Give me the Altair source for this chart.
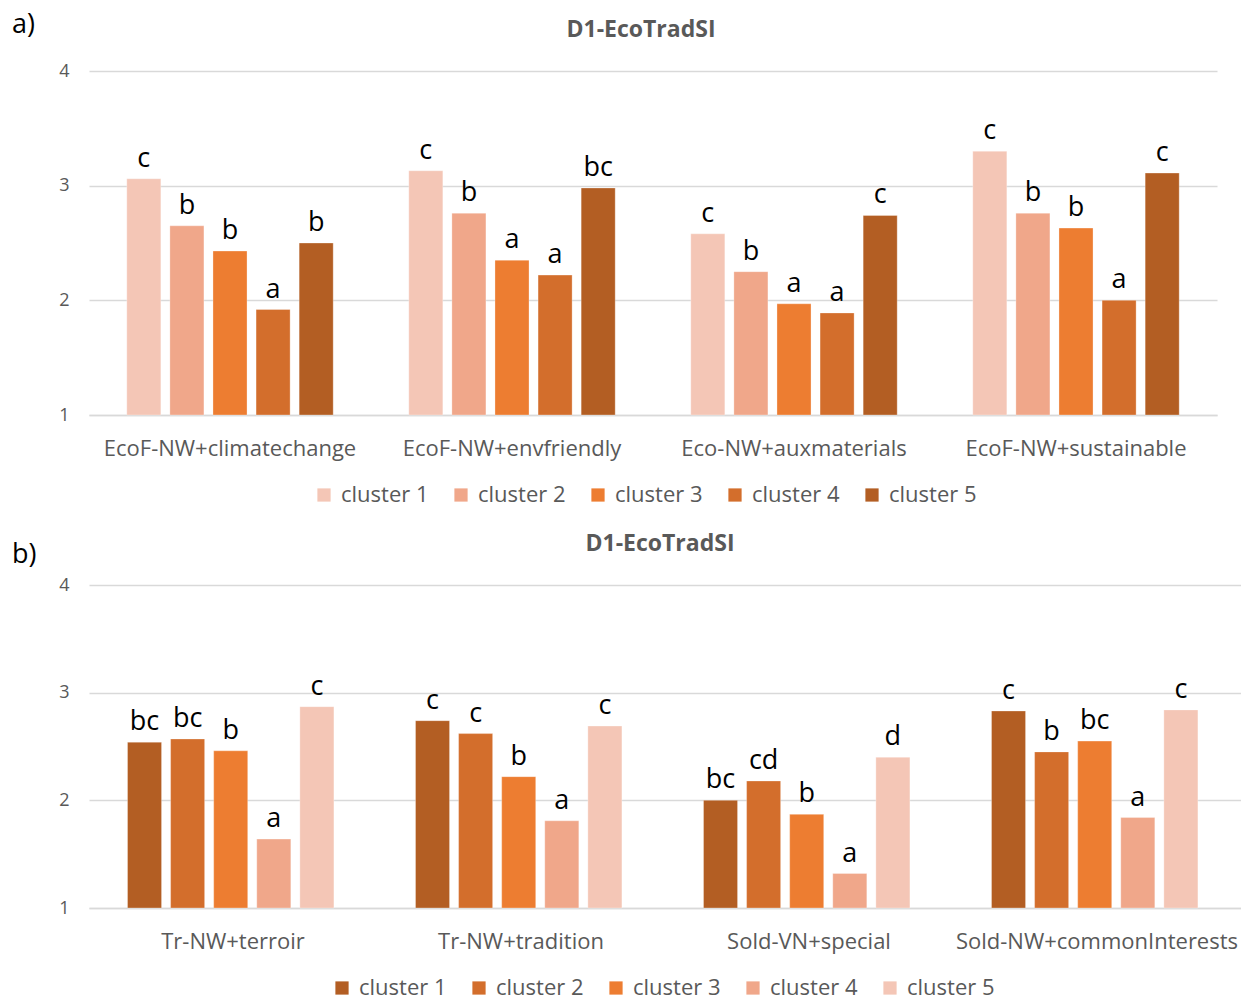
import altair as alt
import pandas as pd

# ---- data -------------------------------------------------------------
clusters = ["cluster 1", "cluster 2", "cluster 3", "cluster 4", "cluster 5"]

items_a = ["EcoF-NW+climatechange", "EcoF-NW+envfriendly",
           "Eco-NW+auxmaterials", "EcoF-NW+sustainable"]
means_a = [
    [3.06, 2.65, 2.43, 1.92, 2.50],
    [3.13, 2.76, 2.35, 2.22, 2.98],
    [2.58, 2.25, 1.97, 1.89, 2.74],
    [3.30, 2.76, 2.63, 2.00, 3.11],
]
letters_a = [
    ["c", "b", "b", "a", "b"],
    ["c", "b", "a", "a", "bc"],
    ["c", "b", "a", "a", "c"],
    ["c", "b", "b", "a", "c"],
]

items_b = ["Tr-NW+terroir", "Tr-NW+tradition",
           "Sold-VN+special", "Sold-NW+commonInterests"]
means_b = [
    [2.54, 2.57, 2.46, 1.64, 2.87],
    [2.74, 2.62, 2.22, 1.81, 2.69],
    [2.00, 2.18, 1.87, 1.32, 2.40],
    [2.83, 2.45, 2.55, 1.84, 2.84],
]
letters_b = [
    ["bc", "bc", "b", "a", "c"],
    ["c", "c", "b", "a", "c"],
    ["bc", "cd", "b", "a", "d"],
    ["c", "b", "bc", "a", "c"],
]

y_ticks = [1, 2, 3, 4]
title_text = "D1-EcoTradSI"

# light -> dark orange ramp
ramp = ["#F4C6B6", "#F0A78A", "#ED7D31", "#D36E2C", "#B35E23"]
colors_a = ramp
colors_b = ramp[::-1]

FONT = "Open Sans"
GREY = "#595959"
GRID = "#D9D9D9"


def frame(items, means, letters):
    rows = []
    for i, item in enumerate(items):
        for j, cl in enumerate(clusters):
            rows.append({"item": item, "cluster": cl,
                         "mean": means[i][j], "letter": letters[i][j]})
    return pd.DataFrame(rows)


def panel(df, items, colors, width, height, tag, tag_y, head_x,
          legend_x, legend_y):
    x = alt.X("item:N", sort=items, title=None,
              scale=alt.Scale(paddingInner=0.236, paddingOuter=0.118),
              axis=alt.Axis(labelAngle=0, labelFontSize=22, labelColor=GREY,
                            labelFont=FONT, labelPadding=23, ticks=False,
                            domainColor=GRID, domainWidth=1.5, labelLimit=400))
    xo = alt.XOffset("cluster:N", sort=clusters,
                     scale=alt.Scale(paddingInner=0.21, paddingOuter=0.105))
    y = alt.Y("mean:Q", title=None,
              scale=alt.Scale(domain=[1, 4], zero=False, nice=False),
              axis=alt.Axis(values=y_ticks, format="d", labelFontSize=18,
                            labelColor=GREY, labelFont=FONT, labelPadding=20,
                            ticks=False, domain=False, gridColor=GRID,
                            gridWidth=1.3))

    bars = alt.Chart(df).mark_bar(stroke="white", strokeWidth=0.6,
                                  strokeOpacity=0.5).encode(
        x=x, xOffset=xo, y=y, y2=alt.datum(1),
        color=alt.Color("cluster:N", sort=clusters,
                        scale=alt.Scale(domain=clusters, range=colors),
                        legend=alt.Legend(
                            title=None, orient="none", direction="horizontal",
                            legendX=legend_x, legendY=legend_y,
                            symbolType="square", symbolSize=175,
                            symbolStrokeWidth=0, labelFontSize=22,
                            labelColor=GREY, labelFont=FONT,
                            columnPadding=21, labelOffset=6)),
    )

    labels = alt.Chart(df).mark_text(
        font=FONT, fontSize=27, color="black", baseline="alphabetic",
        dy=-12).encode(
        x=alt.X("item:N", sort=items), xOffset=alt.XOffset("cluster:N", sort=clusters),
        y="mean:Q", text="letter:N")

    # panel heading and panel tag, drawn as text in the space above the plot
    head = pd.DataFrame({"t": [title_text]})
    heading = alt.Chart(head).mark_text(
        font=FONT, fontSize=23, fontWeight="bold", color=GREY,
        align="center", baseline="middle").encode(
        x=alt.value(head_x), y=alt.value(-41), text="t:N")

    tag_df = pd.DataFrame({"t": [tag]})
    tag_mark = alt.Chart(tag_df).mark_text(
        font=FONT, fontSize=27, color="black", align="left",
        baseline="middle").encode(
        x=alt.value(-77), y=alt.value(tag_y), text="t:N")

    return alt.layer(bars, labels, heading, tag_mark).properties(
        width=width, height=height)


top = panel(frame(items_a, means_a, letters_a), items_a, colors_a,
            1128, 344, "a)", -46, 552, 224, 413)
bottom = panel(frame(items_b, means_b, letters_b), items_b, colors_b,
               1152, 323, "b)", -30, 571, 242, 392)

chart = alt.vconcat(top, bottom, spacing=27).resolve_scale(
    color="independent").resolve_legend(color="independent").properties(
    padding={"left": 12, "top": 11, "right": 0, "bottom": 30}
).configure_view(stroke=None)

chart.save("out.html", embed_options={"renderer": "svg", "actions": False})
